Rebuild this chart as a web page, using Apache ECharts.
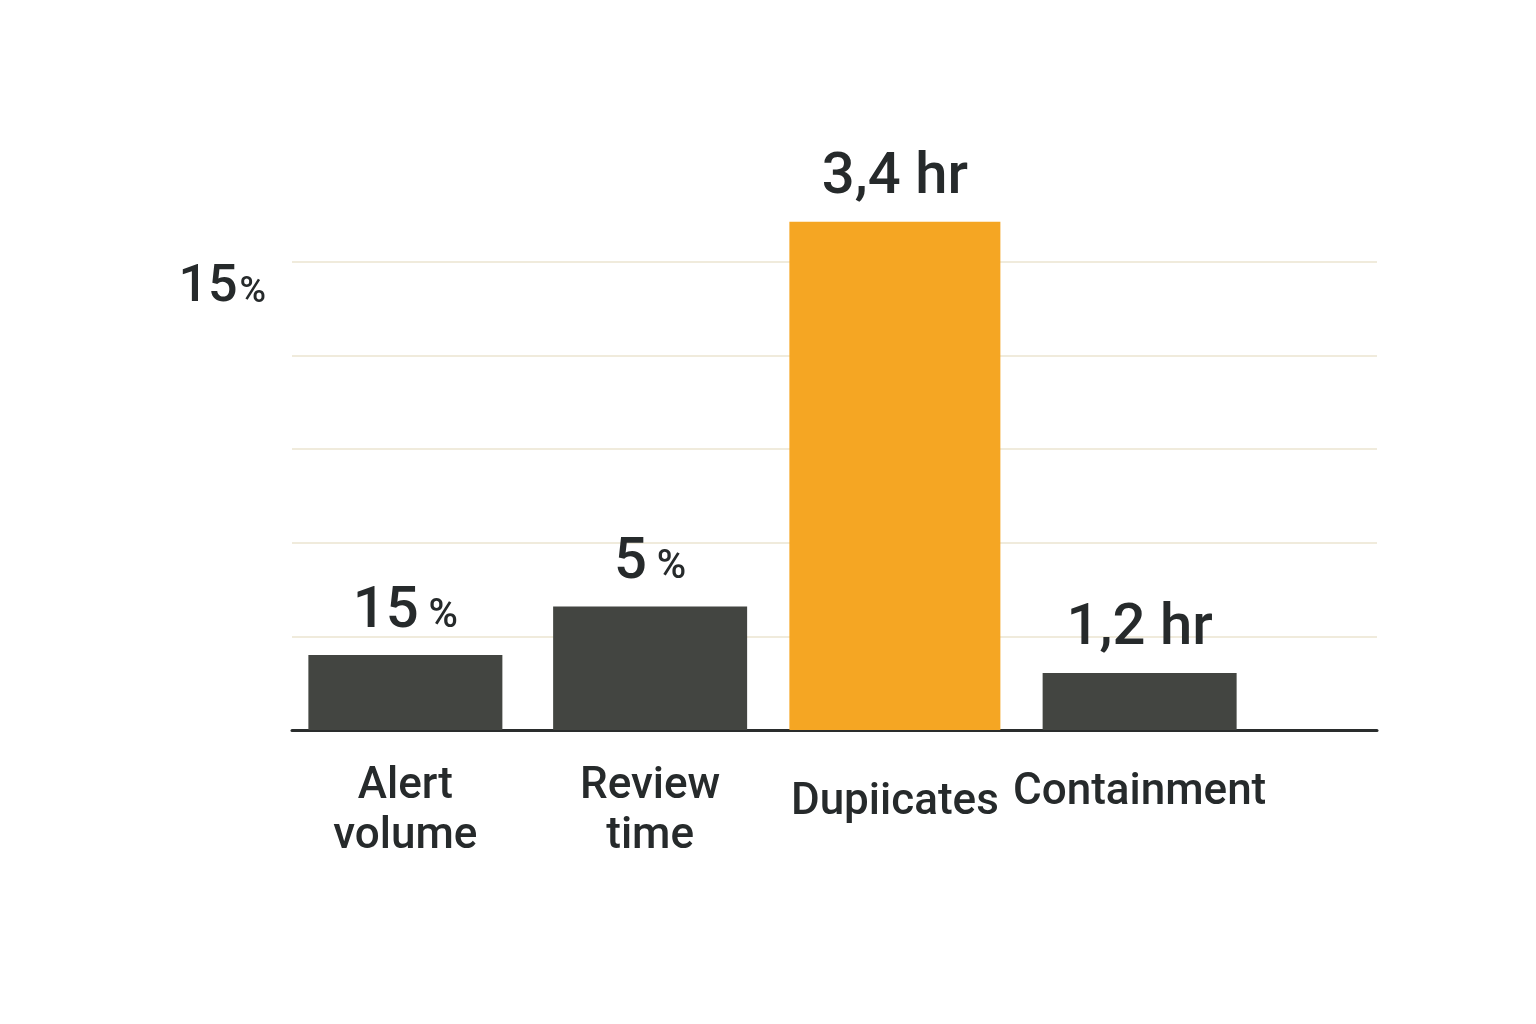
<!DOCTYPE html>
<html>
<head>
<meta charset="utf-8">
<script src="https://cdn.jsdelivr.net/npm/echarts@6/dist/echarts.min.js"></script>
<style>
  html, body { margin: 0; padding: 0; background: #fff; }
  #chart { width: 1536px; height: 1024px; }
</style>
</head>
<body>
<div id="chart"></div>
<script>
// categories and values
const categories = ['Alert\nvolume', 'Review\ntime', 'Dupiicates', 'Containment']
const barHeights = [0.80, 1.32, 5.43, 0.61] // in gridline units (5 lines up to top)
const barLabels = [['15', ' %'], ['5', ' %'], ['3,4 hr', ''], ['1,2 hr', '']]
const highlight = 2 // the orange bar
const labelShift = [0, 0, 16, 6] // single line labels sit a bit lower
const yTopLabel = ['15', '%']

const textColor = '#262a2b'
const font = 'Roboto, "Noto Sans", sans-serif'

const valueLabel = {
  show: true,
  position: 'top',
  distance: 14,
  formatter: (p) => {
    const [n, u] = barLabels[p.dataIndex]
    return u ? `{n|${n}}{u|${u}}` : `{n|${n}}`
  },
  rich: {
    n: { fontFamily: font, fontWeight: 500, fontSize: 58, color: textColor },
    u: { fontFamily: font, fontWeight: 500, fontSize: 40, color: textColor, padding: [10, 0, 0, 0] }
  }
}

const chart = echarts.init(document.getElementById('chart'))
chart.setOption({
  backgroundColor: '#ffffff',
  animation: false,
  grid: [
    { left: 292, right: 159, top: 262, bottom: 294 }, // gridlines + baseline
    { left: 283, right: 274, top: 262, bottom: 294 } // bars
  ],
  xAxis: [
    {
      gridIndex: 0,
      type: 'value',
      min: 0,
      max: 1,
      axisLine: { show: true, onZero: false, lineStyle: { color: '#2a2d2d', width: 3 } },
      axisTick: { show: false },
      axisLabel: { show: false },
      splitLine: { show: false }
    },
    {
      gridIndex: 1,
      type: 'category',
      data: categories.map((c, i) => ({
        value: c,
        textStyle: { padding: [labelShift[i], 0, 0, 0] }
      })),
      axisLine: { show: false },
      axisTick: { show: false },
      axisLabel: {
        interval: 0,
        margin: 32,
        color: textColor,
        fontFamily: font,
        fontWeight: 500,
        fontSize: 44,
        lineHeight: 50
      }
    },
    {
      // same bands again, only so the wider orange bar is centred on its own
      gridIndex: 1,
      type: 'category',
      data: categories,
      show: false
    }
  ],
  yAxis: [
    {
      gridIndex: 0,
      type: 'value',
      min: 0,
      max: 5,
      interval: 1,
      axisLine: { show: false },
      axisTick: { show: false },
      splitLine: { lineStyle: { color: '#f0ebdc', width: 2 } },
      axisLabel: {
        margin: 26,
        verticalAlign: 'top',
        formatter: (v) => (v === 5 ? `{n|${yTopLabel[0]}}{p|${yTopLabel[1]}}` : ''),
        rich: {
          n: { fontFamily: font, fontWeight: 500, fontSize: 52, color: textColor },
          p: { fontFamily: font, fontWeight: 500, fontSize: 36, color: textColor, padding: [10, 0, 0, 2] }
        }
      }
    },
    {
      gridIndex: 1,
      type: 'value',
      min: 0,
      max: 5,
      show: false,
      splitLine: { show: false }
    }
  ],
  series: [
    {
      type: 'bar',
      xAxisIndex: 1,
      yAxisIndex: 1,
      clip: false,
      barWidth: 194,
      itemStyle: { color: '#434541' },
      data: barHeights.map((v, i) => (i === highlight ? '-' : v)),
      label: valueLabel
    },
    {
      type: 'bar',
      xAxisIndex: 2,
      yAxisIndex: 1,
      clip: false,
      barWidth: 211,
      itemStyle: { color: '#f5a623' },
      data: barHeights.map((v, i) => (i === highlight ? v : '-')),
      label: valueLabel
    }
  ]
})
</script>
</body>
</html>
